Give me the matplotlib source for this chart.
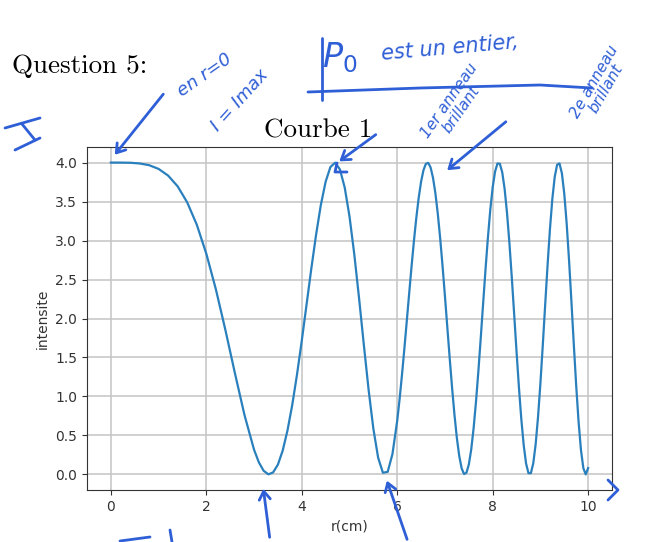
import matplotlib
matplotlib.use("Agg")
import matplotlib.pyplot as plt

# ---- data ----
r_cm = [0.0, 0.2, 0.4, 0.6, 0.8, 1.0, 1.2, 1.4, 1.6, 1.8, 2.0, 2.2, 2.4, 2.6, 2.8, 3.0,
        3.1, 3.2, 3.3, 3.4, 3.5, 3.6, 3.7, 3.8, 3.9, 4.0, 4.1, 4.2, 4.3, 4.4, 4.5, 4.6,
        4.7, 4.8, 4.9, 5.0, 5.1, 5.2, 5.3, 5.4, 5.5, 5.6, 5.7, 5.8, 5.9, 6.0,
        6.05, 6.10, 6.15, 6.20, 6.25, 6.30, 6.35, 6.40, 6.45, 6.50, 6.55, 6.60, 6.65,
        6.70, 6.75, 6.80, 6.85, 6.90, 6.95, 7.00, 7.05, 7.10, 7.15, 7.20, 7.25, 7.30,
        7.35, 7.40, 7.45, 7.50, 7.55, 7.60, 7.65, 7.70, 7.75, 7.80, 7.85, 7.90, 7.95,
        8.00, 8.05, 8.10, 8.15, 8.20, 8.25, 8.30, 8.35, 8.40, 8.45, 8.50, 8.55, 8.60,
        8.65, 8.70, 8.75, 8.80, 8.85, 8.90, 8.95, 9.00, 9.05, 9.10, 9.15, 9.20, 9.25,
        9.30, 9.35, 9.40, 9.45, 9.50, 9.55, 9.60, 9.65, 9.70, 9.75, 9.80, 9.85, 9.90,
        9.95, 10.0]
intensite = [4.000, 4.000, 3.998, 3.989, 3.967, 3.919, 3.833, 3.695, 3.489, 3.204, 2.831,
             2.375, 1.852, 1.296, 0.761, 0.317,
             0.156, 0.047, 0.001, 0.026, 0.126, 0.305, 0.562, 0.890, 1.280, 1.715, 2.177,
             2.640, 3.076, 3.458, 3.755, 3.943, 3.999, 3.912, 3.679, 3.310, 2.826, 2.262,
             1.665, 1.087, 0.586, 0.215, 0.021, 0.033, 0.261, 0.690,
             0.968, 1.280, 1.615, 1.966, 2.320, 2.667, 2.995, 3.292, 3.549, 3.755, 3.903,
             3.984, 3.996, 3.936, 3.804, 3.605, 3.343, 3.028, 2.671, 2.285, 1.884, 1.486,
             1.106, 0.761, 0.465, 0.234, 0.077, 0.005, 0.021, 0.126, 0.318, 0.590, 0.930,
             1.322, 1.751, 2.194, 2.630, 3.038, 3.395, 3.683, 3.884, 3.988, 3.985, 3.876,
             3.663, 3.357, 2.972, 2.531, 2.056, 1.575, 1.116, 0.708, 0.375, 0.138, 0.016,
             0.016, 0.141, 0.385, 0.735, 1.169, 1.660, 2.177, 2.684, 3.148, 3.535, 3.817,
             3.973, 3.989, 3.863, 3.601, 3.220, 2.747, 2.215, 1.665, 1.137, 0.673, 0.311,
             0.079, 0.000, 0.081]
x_ticks = [0, 2, 4, 6, 8, 10]
y_ticks = [0.0, 0.5, 1.0, 1.5, 2.0, 2.5, 3.0, 3.5, 4.0]

W, H = 648, 542
fig = plt.figure(figsize=(W / 100, H / 100), dpi=100)
ax = fig.add_axes([87 / W, 1 - 490 / H, (612 - 87) / W, (490 - 147) / H])

ax.plot(r_cm, intensite, color="#2a80bd", linewidth=1.6)
ax.set_xticks(x_ticks)
ax.set_yticks(y_ticks)
ax.set_yticklabels([f"{v:.1f}" for v in y_ticks])
ax.grid(True, color="#c4c4c4", linewidth=1.1)
ax.set_xlabel("r(cm)", fontsize=10, color="#333333")
ax.set_ylabel("intensite", fontsize=10, color="#333333")
ax.tick_params(labelsize=10, labelcolor="#333333", color="#333333")
for s in ax.spines.values():
    s.set_color("#333333")

# document texts around the chart (LaTeX-like serif)
fig.text(318 / W, 1 - 137 / H, "Courbe 1", fontfamily="cmr10", fontsize=19.5,
         ha="center", va="baseline")
fig.text(12 / W, 1 - 73 / H, "Question 5:", fontfamily="cmr10", fontsize=19.5,
         va="baseline", ha="left")

# ---- handwritten blue annotations (approximate) ----
ink = "#2f5fd6"
def fx(px):
    return px / W
def fy(py):
    return 1 - py / H

def stroke(pts, lw=2.0):
    xs = [fx(p[0]) for p in pts]
    ys = [fy(p[1]) for p in pts]
    fig.add_artist(plt.Line2D(xs, ys, color=ink, linewidth=lw,
                              solid_capstyle="round", transform=fig.transFigure))

def arrow(p0, p1):
    fig.add_artist(matplotlib.patches.FancyArrowPatch(
        (fx(p0[0]), fy(p0[1])), (fx(p1[0]), fy(p1[1])),
        transform=fig.transFigure, arrowstyle="->,head_length=6,head_width=4",
        color=ink, linewidth=2.0))

hand = dict(color=ink, fontstyle="italic", family="DejaVu Sans")

# left "I"
stroke([(5, 128), (40, 118)])
stroke([(22, 124), (35, 140)])
stroke([(15, 150), (40, 138)])
# arrow to r=0 maximum
arrow((165, 92), (113, 157))
fig.text(fx(205), fy(75), "en r=0", rotation=35, fontsize=13, ha="center", va="center", **hand)
fig.text(fx(240), fy(100), "I = Imax", rotation=48, fontsize=13, ha="center", va="center", **hand)
# P0 est un entier
fig.text(fx(340), fy(58), "P$_0$", fontsize=24, ha="center", va="center", **hand)
fig.text(fx(450), fy(48), "est un entier,", rotation=5, fontsize=15, ha="center",
         va="center", **hand)
stroke([(308, 92), (420, 88), (540, 85), (592, 88)])
stroke([(322, 38), (322, 100)])
fig.text(fx(455), fy(105), "1er anneau\nbrillant", rotation=55, fontsize=11,
         ha="center", va="center", linespacing=0.9, **hand)
fig.text(fx(600), fy(85), "2e anneau\nbrillant", rotation=60, fontsize=11,
         ha="center", va="center", linespacing=0.9, **hand)
# arrows to the first two bright rings
arrow((378, 133), (337, 163))
stroke([(337, 163), (335, 172), (347, 172)])
arrow((508, 120), (445, 172))
# arrows from below to dark rings
arrow((270, 540), (263, 486))
arrow((408, 542), (386, 478))
# arrow tip beyond x axis
stroke([(608, 480), (618, 490), (608, 500)])
# small marks bottom-left
stroke([(170, 530), (172, 542)])
stroke([(120, 541), (150, 537)])

fig.savefig("out.png", dpi=100)
